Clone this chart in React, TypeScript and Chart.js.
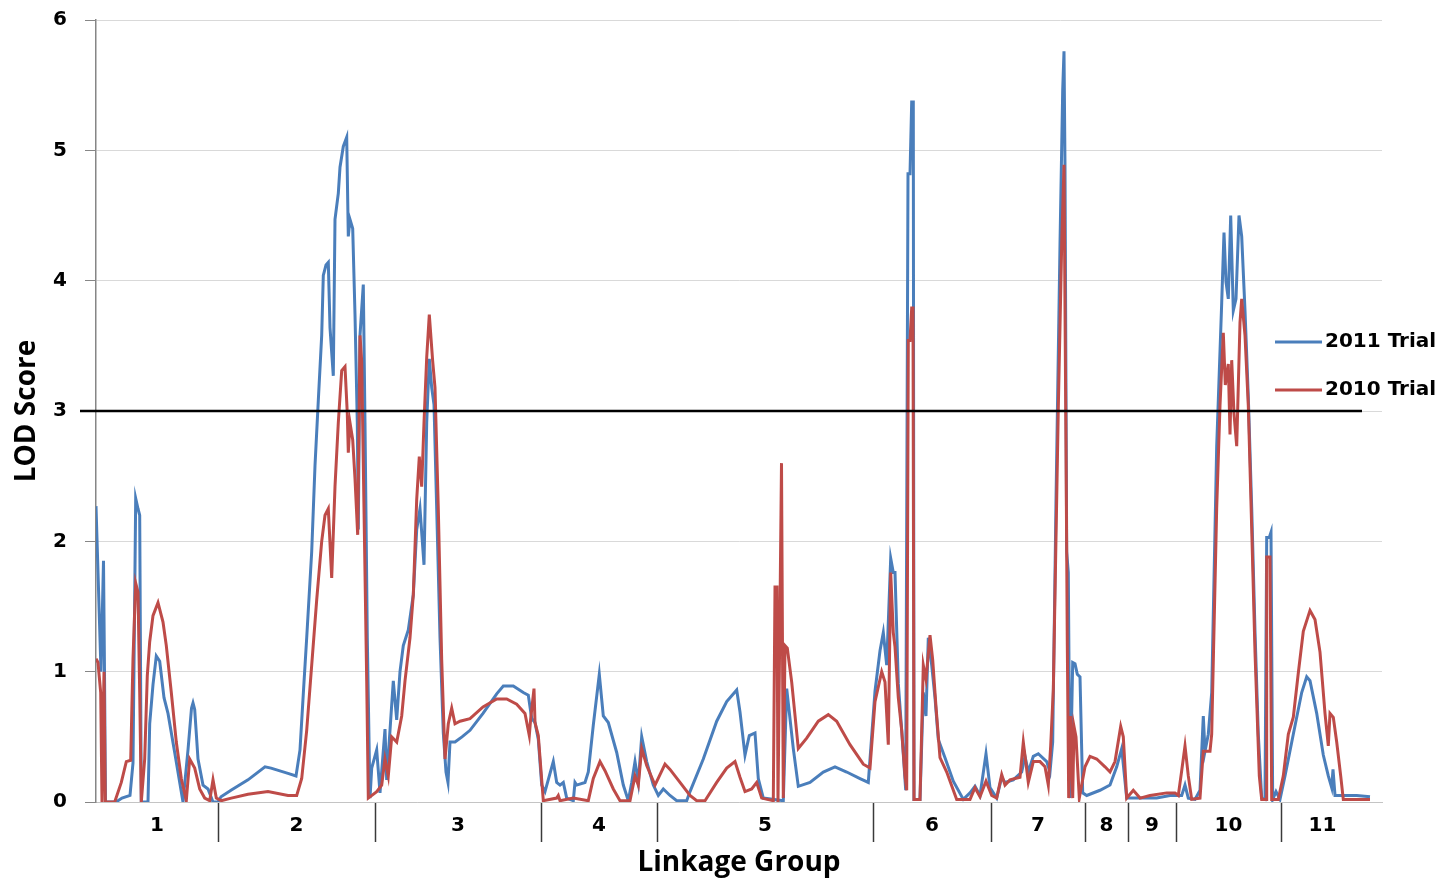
import { useEffect, useRef } from 'react';
import { Chart, registerables } from 'chart.js';

Chart.register(...registerables);

// Linkage groups: names and their extents along the map (position units)
const groupNames = ['1', '2', '3', '4', '5', '6', '7', '8', '9', '10', '11'];
const groupEdges = [0, 122, 279, 445, 561, 777, 895, 989, 1032, 1080, 1185, 1268];

const yTicks = [0, 1, 2, 3, 4, 5, 6];

// 2011 Trial (blue)
const pos2011 = [
  0, 5, 7.5, 8.5, 9.5, 20, 26, 34, 37, 39.7, 42, 43.7, 45.3, 52, 53.7, 57, 60.3, 63.7, 68, 72, 78.7, 87, 92, 95.5, 97, 98.7, 102, 107, 112, 117,
  122, 125, 135, 152, 169, 175, 192, 200, 204, 207.3, 210.7, 215.7, 219, 222.3, 225.7, 227.3, 230, 232.3, 234, 237.3, 239, 242.3, 244, 247.3, 250.7, 252.3, 254, 256.7, 259, 261.3, 262.3, 264, 267.3, 269, 271.3, 274,
  275.7, 280.7, 284, 289, 290.7, 297.3, 300.7, 304, 307.3, 312.3, 317.3, 320.7, 324, 328, 330.7, 333.3, 335.7, 338, 340.7, 344, 347.3, 350, 352, 354, 359, 366, 374, 387, 400.7, 407.3, 417.3, 427.3, 432.3, 435.7, 439, 442.3,
  445.7, 449, 457.3, 460.7, 464, 467.3, 470.7, 477.3, 479, 480.7, 489, 492.3, 497.3, 503.3, 507.3, 512.3, 520.7, 527.3, 532.3, 535.7, 539, 542.3, 545.7, 550.7, 557.3,
  562.3, 567.3, 574, 580.7, 590.7, 594, 607.3, 620.7, 630.7, 640.7, 644, 649, 653.3, 659, 662.3, 667.3, 687.3, 690.7, 697.3, 702.3, 714, 727.3, 739, 750.7, 764, 772.3,
  779, 784, 787.3, 790.7, 794.7, 797.3, 799, 802.3, 805.7, 809.7, 812, 814, 815.7, 817.3, 818, 824, 827.3, 830, 832.3, 835.7, 839, 842.3, 849, 857.3, 867.3, 874, 879, 884, 890, 894,
  900.7, 905.7, 909, 917.3, 925.7, 929, 932.3, 937.3, 942.3, 950.7, 954, 956.7, 960, 964, 966.7, 968, 969, 970.7, 972.3, 974, 976.7, 979, 981.3, 984, 986.7,
  990.7, 1004, 1014, 1020.7, 1025.7, 1030.7, 1044, 1060.7, 1074,
  1085.7, 1089, 1092.3, 1099, 1104, 1107.3, 1109, 1112.3, 1115.7, 1120.7, 1125.7, 1128, 1130, 1132.3, 1134.7, 1137.3, 1140, 1143, 1145.7, 1149, 1152.3, 1155.7, 1159, 1162.3, 1165.7, 1169, 1170.7, 1173.3, 1175, 1176.7, 1180,
  1184, 1189, 1197.3, 1205.7, 1210.7, 1214, 1220.7, 1227.3, 1232.3, 1235.7, 1237, 1239, 1247.3, 1260.7, 1274,
];
const lod2011 = [
  2.27, 1.0, 1.85, 1.0, 0, 0, 0.03, 0.05, 0.3, 2.33, 2.25, 2.2, 0, 0, 0.6, 0.9, 1.12, 1.08, 0.8, 0.68, 0.38, 0, 0.4, 0.72, 0.76, 0.71, 0.33, 0.13, 0.1, 0,
  0, 0.04, 0.09, 0.17, 0.27, 0.26, 0.22, 0.2, 0.4, 0.83, 1.26, 1.92, 2.58, 3.08, 3.58, 4.04, 4.12, 4.14, 3.64, 3.27, 4.47, 4.67, 4.87, 5.03, 5.1, 4.34, 4.47, 4.4, 3.74, 2.91, 2.09, 3.58, 3.97, 2.91, 1.26, 0.03,
  0.26, 0.4, 0.07, 0.56, 0.17, 0.93, 0.63, 1.0, 1.2, 1.32, 1.59, 2.09, 2.25, 1.82, 2.91, 3.4, 3.18, 3.05, 2.25, 1.26, 0.53, 0.23, 0.15, 0.46, 0.46, 0.5, 0.55, 0.68, 0.83, 0.89, 0.89, 0.84, 0.82, 0.64, 0.61, 0.48,
  0.13, 0.08, 0.31, 0.15, 0.13, 0.15, 0.03, 0.01, 0.15, 0.13, 0.15, 0.23, 0.59, 0.98, 0.66, 0.61, 0.38, 0.13, 0.01, 0.15, 0.31, 0.15, 0.5, 0.31, 0.13,
  0.05, 0.1, 0.05, 0.01, 0.01, 0.08, 0.33, 0.62, 0.77, 0.86, 0.69, 0.36, 0.51, 0.53, 0.18, 0.03, 0.01, 0.87, 0.41, 0.12, 0.15, 0.23, 0.27, 0.23, 0.18, 0.15,
  0.85, 1.16, 1.3, 1.05, 1.87, 1.76, 1.76, 0.91, 0.55, 0.09, 4.82, 4.82, 5.37, 5.37, 0.02, 0.02, 0.84, 0.66, 1.26, 1.05, 0.8, 0.48, 0.34, 0.16, 0.02, 0.07, 0.12, 0.05, 0.37, 0.11,
  0.03, 0.19, 0.15, 0.17, 0.23, 0.35, 0.23, 0.35, 0.37, 0.31, 0.23, 0.46, 2.31, 4.28, 5.46, 5.76, 4.87, 1.92, 1.76, 0.03, 1.07, 1.06, 0.98, 0.96, 0.07,
  0.05, 0.09, 0.13, 0.27, 0.41, 0.03, 0.03, 0.03, 0.05,
  0.05, 0.13, 0.03, 0.02, 0.09, 0.66, 0.39, 0.52, 0.84, 2.73, 3.83, 4.37, 3.99, 3.86, 4.5, 3.77, 3.86, 4.5, 4.34, 3.77, 3.11, 2.26, 1.31, 0.52, 0.03, 0.02, 2.03, 2.03, 2.07, 0.02, 0.08,
  0.02, 0.2, 0.52, 0.84, 0.96, 0.93, 0.68, 0.36, 0.2, 0.11, 0.25, 0.05, 0.05, 0.05, 0.04,
];

// 2010 Trial (red)
const pos2010 = [
  0, 2, 4.7, 6, 8, 9.3, 18.7, 25.3, 30.3, 34.7, 37, 39.7, 42, 43.7, 45.3, 48.7, 51.3, 53.7, 57, 62, 67, 70.3, 75.3, 80.3, 85.3, 90.3, 93.7, 98.7, 103.7, 108.7, 113.7, 117, 120.3,
  125.3, 135.3, 152, 172, 192, 200.7, 205.7, 210.7, 215.7, 220.7, 225.7, 229, 232.3, 235.7, 239, 242.3, 245.7, 249, 251.3, 252.3, 254, 256.7, 259, 261.7, 264, 265.7, 268, 270.7, 272.3,
  280.7, 285.7, 289, 292.3, 295.7, 300.7, 305.7, 309, 314, 317.3, 320.7, 323.3, 325.7, 328, 330.7, 333.3, 336.7, 339, 342.3, 345.7, 349, 352.3, 355.7, 359, 364, 374, 387, 400.7, 410.7, 420.7, 429, 433.3, 434.7, 438, 439, 442.3,
  447.3, 460.7, 462.3, 464, 477.3, 492.3, 497.3, 504, 509, 517.3, 524, 534, 539, 542.3, 545.7, 550.7, 559,
  569, 574, 584, 594, 600.7, 609, 620.7, 630.7, 639, 644, 649, 655.7, 660.7, 665.7, 677.3, 679, 681, 682, 685.5, 687.3, 689, 691.3, 695.7, 702.3, 710.7, 722.3, 732.3, 740.7, 754, 767.3, 774,
  779, 785.7, 789, 792.3, 794.7, 797.3, 799, 802.3, 805.7, 809, 810.7, 812.3, 814, 815.7, 817, 818, 824, 827.3, 830, 834, 836.7, 840, 844, 850.7, 860.7, 874, 879, 884, 890,
  895.7, 900.7, 905.7, 909, 914, 924, 927.3, 932.3, 937.3, 944, 949, 952.3, 954.7, 957.3, 962.3, 965.7, 968, 970, 971.3, 972.7, 974.7, 976.7, 978, 980, 983.3,
  989, 994, 1000.7, 1009, 1014, 1019, 1024.7, 1027.3, 1030.7, 1037.3, 1044, 1054, 1070.7, 1079,
  1082.3, 1085.7, 1089, 1092.3, 1095.7, 1104, 1107.3, 1114, 1115.7, 1120.7, 1124, 1127.3, 1129.3, 1132.3, 1134, 1135.7, 1138, 1140.7, 1144, 1145.7, 1149, 1152.3, 1155.7, 1159, 1163.3, 1165.7, 1170, 1170.7, 1174, 1175.7,
  1182.3, 1187.3, 1192.3, 1197.3, 1202.3, 1207.3, 1214, 1219, 1224, 1229, 1232.3, 1234, 1237.3, 1240.7, 1244.7, 1247.3, 1274,
];
const lod2010 = [
  1.1, 1.07, 0.84, 0, 1.0, 0, 0, 0.15, 0.31, 0.32, 1.1, 1.68, 1.61, 0.84, 0, 0.33, 0.97, 1.23, 1.43, 1.53, 1.38, 1.2, 0.84, 0.46, 0.18, 0.01, 0.33, 0.26, 0.1, 0.03, 0.01, 0.17, 0.03,
  0.01, 0.03, 0.06, 0.08, 0.05, 0.05, 0.18, 0.55, 1.05, 1.55, 2.0, 2.2, 2.25, 1.72, 2.42, 2.91, 3.31, 3.34, 2.98, 2.68, 2.91, 2.78, 2.48, 2.05, 3.58, 3.38, 2.25, 0.93, 0.03,
  0.08, 0.13, 0.33, 0.2, 0.5, 0.46, 0.66, 0.93, 1.26, 1.59, 2.32, 2.65, 2.42, 2.91, 3.41, 3.74, 3.38, 3.18, 2.25, 1.09, 0.33, 0.6, 0.72, 0.6, 0.62, 0.64, 0.73, 0.79, 0.79, 0.75, 0.68, 0.51, 0.64, 0.87, 0.61, 0.51,
  0.01, 0.03, 0.05, 0.01, 0.03, 0.01, 0.18, 0.31, 0.24, 0.1, 0.01, 0.01, 0.2, 0.13, 0.41, 0.28, 0.13,
  0.29, 0.25, 0.15, 0.05, 0.01, 0.01, 0.15, 0.26, 0.31, 0.19, 0.08, 0.1, 0.15, 0.03, 0.01, 1.65, 1.65, 0, 2.6, 0.03, 1.2, 1.18, 0.92, 0.41, 0.49, 0.62, 0.67, 0.62, 0.44, 0.29, 0.26,
  0.77, 1.0, 0.92, 0.44, 1.76, 1.3, 1.19, 0.8, 0.55, 0.2, 0.09, 3.54, 3.54, 3.79, 3.79, 0.02, 0.02, 1.05, 0.94, 1.28, 1.09, 0.73, 0.34, 0.23, 0.02, 0.02, 0.11, 0.04, 0.16,
  0.05, 0.03, 0.21, 0.13, 0.17, 0.19, 0.46, 0.15, 0.31, 0.31, 0.27, 0.13, 0.43, 0.86, 3.02, 4.28, 4.89, 2.71, 1.21, 0.03, 0.66, 0.03, 0.58, 0.5, 0.03,
  0.27, 0.35, 0.33, 0.27, 0.23, 0.31, 0.58, 0.5, 0.03, 0.09, 0.03, 0.05, 0.07, 0.07,
  0.05, 0.24, 0.43, 0.2, 0.02, 0.03, 0.39, 0.39, 0.52, 2.26, 3.04, 3.6, 3.2, 3.36, 2.82, 3.39, 2.98, 2.73, 3.68, 3.86, 3.58, 3.04, 2.1, 1.15, 0.2, 0.02, 0.02, 1.88, 1.88, 0.02,
  0.02, 0.2, 0.52, 0.65, 0.99, 1.31, 1.47, 1.4, 1.15, 0.68, 0.43, 0.68, 0.65, 0.46, 0.2, 0.02, 0.02,
];

// Significance threshold
const thresholdPos = [-16, 1266];
const thresholdLod = [3, 3];

const BLUE = '#4a7ebb';
const RED = '#be4b48';

export default function App() {
  const ref = useRef<HTMLCanvasElement>(null);

  useEffect(() => {
    if (!ref.current) return;
    const centers = groupNames.map((_, i) => (groupEdges[i] + groupEdges[i + 1]) / 2);
    const separators = groupEdges.slice(1, groupEdges.length - 1);
    const tickVals = [...separators, ...centers].sort((a, b) => a - b);

    const sideLegend = {
      id: 'sideLegend',
      afterDraw(chart: any) {
        const { ctx, chartArea } = chart;
        const items = chart.data.datasets.filter((d: any) => d.label);
        ctx.save();
        items.forEach((ds: any, i: number) => {
          const y = chartArea.top + 322 + i * 48;
          const x0 = chartArea.right - 107;
          ctx.strokeStyle = ds.borderColor;
          ctx.lineWidth = 3;
          ctx.beginPath();
          ctx.moveTo(x0, y);
          ctx.lineTo(x0 + 47, y);
          ctx.stroke();
          ctx.fillStyle = '#000';
          ctx.font = 'bold 20px "DejaVu Sans"';
          ctx.textBaseline = 'middle';
          ctx.textAlign = 'left';
          ctx.fillText(ds.label, x0 + 50, y);
        });
        ctx.restore();
      },
    };

    const chart = new Chart(ref.current, {
      type: 'line',
      data: {
        datasets: [
          {
            label: '2011 Trial',
            data: pos2011.map((x, i) => ({ x, y: lod2011[i] })),
            borderColor: BLUE,
            borderWidth: 3,
            pointRadius: 0,
            tension: 0,
            order: 2,
          },
          {
            label: '2010 Trial',
            data: pos2010.map((x, i) => ({ x, y: lod2010[i] })),
            borderColor: RED,
            borderWidth: 3,
            pointRadius: 0,
            tension: 0,
            order: 1,
          },
          {
            label: '',
            data: thresholdPos.map((x, i) => ({ x, y: thresholdLod[i] })),
            borderColor: '#000',
            borderWidth: 2.5,
            pointRadius: 0,
            clip: false,
            order: 0,
          } as any,
        ],
      },
      options: {
        responsive: false,
        animation: false,
        layout: { padding: { left: 0, right: 64, top: 20, bottom: 0 } },
        plugins: { legend: { display: false }, tooltip: { enabled: false } },
        scales: {
          x: {
            type: 'linear',
            min: 0,
            max: 1286,
            afterBuildTicks: (s: any) => {
              s.ticks = tickVals.map((v) => ({ value: v }));
            },
            afterFit: (s: any) => {
              s.height = 81;
              s.paddingLeft = 0;
              s.paddingRight = 0;
            },
            ticks: {
              autoSkip: false,
              maxRotation: 0,
              padding: -28,
              color: '#000',
              font: { family: 'DejaVu Sans', weight: 'bold', size: 20 },
              callback: (v: any) => {
                const i = centers.indexOf(Number(v));
                return i >= 0 ? groupNames[i] : '';
              },
            },
            grid: {
              drawOnChartArea: false,
              tickLength: 40,
              tickWidth: 1.5,
              tickColor: (c: any) => (separators.includes(c.tick?.value) ? '#3a3a3a' : 'rgba(0,0,0,0)'),
            },
            border: { color: '#c4c4c4', width: 1 },
            title: {
              display: true,
              text: 'Linkage Group',
              color: '#000',
              font: { family: 'Open Sans', weight: 'bold', size: 28 },
              padding: { top: 0, bottom: 3 },
            },
          },
          y: {
            min: 0,
            max: 6,
            afterBuildTicks: (s: any) => {
              s.ticks = yTicks.map((v) => ({ value: v }));
            },
            afterFit: (s: any) => {
              s.width = 96;
              s.paddingTop = 0;
              s.paddingBottom = 0;
            },
            ticks: {
              padding: 18,
              color: '#000',
              font: { family: 'DejaVu Sans', weight: 'bold', size: 20 },
            },
            grid: { color: '#d9d9d9', lineWidth: 1, tickLength: 11, tickColor: '#868686' },
            border: { color: '#868686', width: 1.5 },
            title: {
              display: true,
              text: 'LOD Score',
              color: '#000',
              font: { family: 'Open Sans', weight: 'bold', size: 28 },
              padding: { top: 10, bottom: 0 },
            },
          },
        },
      },
      plugins: [sideLegend],
    });
    return () => chart.destroy();
  }, []);

  return (
    <div style={{ position: 'absolute', left: 0, top: 0, width: 1446, height: 883, background: '#fff' }}>
      <canvas ref={ref} width={1446} height={883} style={{ display: 'block' }} />
    </div>
  );
}
